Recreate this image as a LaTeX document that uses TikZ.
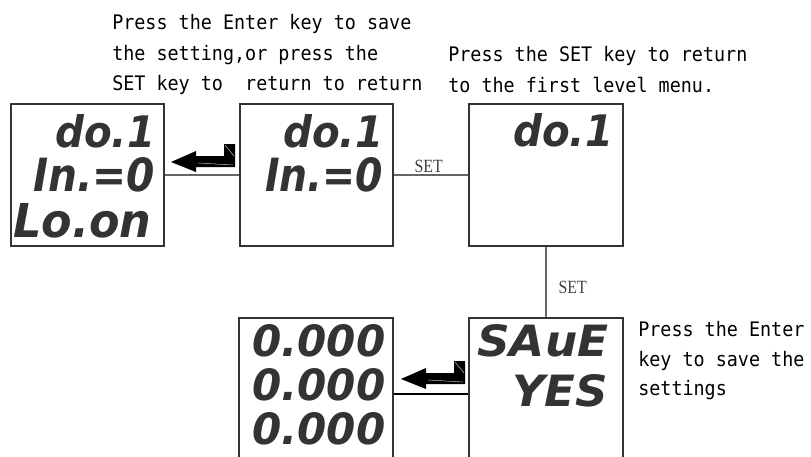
\documentclass[tikz,border=0pt]{standalone}
\usepackage{fontspec}
\usepackage{graphicx}
\newfontfamily\notefont[FakeStretch=0.92]{DejaVu Sans Mono}
\newfontfamily\segfont{DejaVu Sans}
\newfontfamily\lblfont[FakeStretch=0.85]{Liberation Serif}
\newdimen\pxu \pxu=0.75pt
\newcommand{\segtext}[3]{\resizebox{#1\pxu}{#2\pxu}{\segfont\bfseries\itshape #3}}
\begin{document}
\begin{tikzpicture}[x=0.75pt,y=-0.75pt,
  dispbox/.style={draw=black!80, line width=0.8pt, inner sep=0},
  conn/.style={draw=black!60, line width=0.8pt},
  connb/.style={draw=black, line width=0.8pt},
  note/.style={font=\notefont\fontsize{15pt}{18pt}\selectfont, inner sep=0, anchor=base west},
  setlbl/.style={font=\lblfont\fontsize{14pt}{16pt}\selectfont, text=black!75, inner sep=0},
  seg/.style={inner sep=0, anchor=north west, text=black!80},
  enterkey/.pic={
    \fill[black] (0,0) -- (25,-11) -- (25,-6) -- (53,-6) -- (53,-18) -- (64,-18)
      -- (64,5) -- (25,5) -- (25,10) -- cycle;
    \draw[gray!60, line width=0.4pt] (54,-17) -- (63,-6);
    \draw[gray!60, line width=0.4pt] (27,1) -- (62,3);
  }]
\useasboundingbox (0,0) rectangle (811,457);

% display boxes
\node[dispbox, minimum width=114.75pt, minimum height=106.5pt] (b1) at (87.5,175) {};
\node[dispbox, minimum width=114.75pt, minimum height=106.5pt] (b2) at (316.5,175) {};
\node[dispbox, minimum width=115.5pt, minimum height=106.5pt] (b3) at (546,175) {};
\node[dispbox, minimum width=115.5pt, minimum height=114pt] (b4) at (316,394) {};
\node[dispbox, minimum width=115.5pt, minimum height=114pt] (b5) at (546,394) {};

% display contents
\node[seg] (s1a) at (55,114) {\segtext{100}{33}{do.1}};
\node[seg] (s1b) at (33,157) {\segtext{122}{34}{In.=0}};
\node[seg] (s1c) at (13,203) {\segtext{138}{34}{Lo.on}};
\node[seg] (s2a) at (283,114) {\segtext{100}{33}{do.1}};
\node[seg] (s2b) at (265,157) {\segtext{118}{34}{In.=0}};
\node[seg] (s3a) at (513,113) {\segtext{100}{33}{do.1}};
\node[seg] (s4a) at (252,324) {\segtext{133}{32}{0.000}};
\node[seg] (s4b) at (252,368) {\segtext{133}{32}{0.000}};
\node[seg] (s4c) at (252,412) {\segtext{133}{32}{0.000}};
\node[seg] (s5a) at (477,324) {\segtext{131}{32}{SAuE}};
\node[seg] (s5b) at (512,374) {\segtext{96}{32}{YES}};

% connectors
\draw[conn] (b1.east) -- (b2.west);
\draw[conn] (b2.east) -- node[setlbl, pos=0.47, above=1.5pt] (set1) {SET} (b3.west);
\draw[conn] (b3.south) -- node[setlbl, pos=0.58, right=9pt] (set2) {SET} (b5.north);
\draw[connb] (b4.east) -- (b5.west);

% enter arrows
\pic at (171,162) {enterkey};
\pic at (401,379) {enterkey};

% notes
\node[note] (ta1) at (112,29) {Press the Enter key to save};
\node[note] (ta2) at (112,60) {the setting,or press the};
\node[note] (ta3) at (112,90) {SET key to\ \ return to return};
\node[note] (tb1) at (448,61) {Press the SET key to return};
\node[note] (tb2) at (448,92) {to the first level menu.};
\node[note] (tc1) at (638,336) {Press the Enter};
\node[note] (tc2) at (638,366) {key to save the};
\node[note] (tc3) at (638,395) {settings};
\end{tikzpicture}
\end{document}
